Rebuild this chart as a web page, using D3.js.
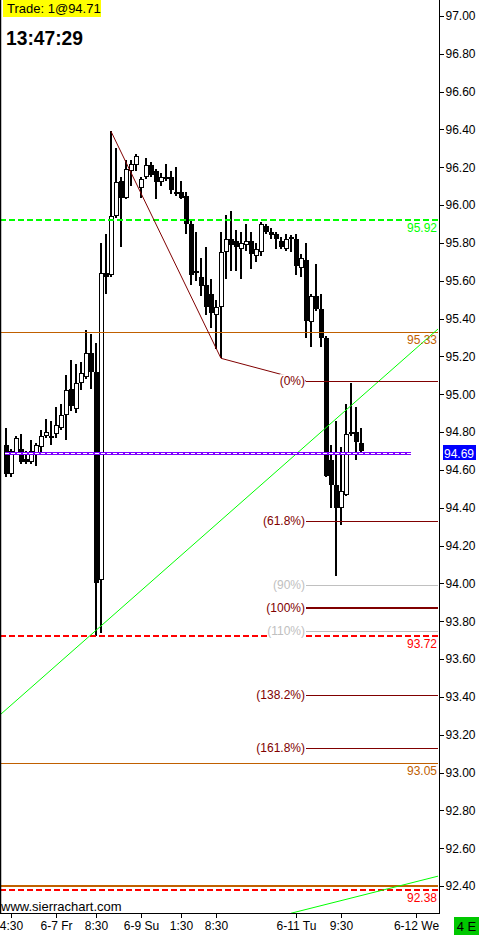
<!DOCTYPE html>
<html><head><meta charset="utf-8">
<script src="https://cdn.jsdelivr.net/npm/d3@7"></script>
<style>html,body{margin:0;padding:0;background:#fff;overflow:hidden}svg{display:block}</style>
</head><body><svg id="c" width="480" height="935"></svg>
<script>
// ---- data ----
const opens  = [94.73,94.58,94.69,94.71,94.66,94.64,94.69,94.72,94.78,94.78,94.79,94.82,94.89,95.03,94.92,95.06,95.09,95.22,95.12,94.02,95.64,95.63,95.94,96.13,96.04,96.18,96.21,96.09,96.15,96.21,96.18,96.12,96.15,96.15,96.07,96.07,96.05,95.90,95.64,95.62,95.58,95.53,95.42,95.46,95.75,95.82,95.81,95.77,95.79,95.81,95.73,95.75,95.89,95.86,95.85,95.81,95.77,95.82,95.82,95.67,95.71,95.38,95.52,95.45,95.30,94.65,94.52,94.40,94.47,94.79,94.80,94.74];
const highs  = [94.82,94.71,94.78,94.79,94.70,94.76,94.74,94.81,94.87,94.86,94.93,94.95,95.10,95.18,95.16,95.17,95.34,95.32,95.27,95.80,95.85,96.39,96.30,96.15,96.24,96.24,96.27,96.15,96.25,96.23,96.19,96.17,96.22,96.18,96.20,96.13,96.07,95.92,95.86,95.72,95.78,95.61,95.50,95.86,95.95,95.97,95.87,95.86,95.90,95.86,95.80,95.91,95.90,95.88,95.86,95.83,95.85,95.84,95.85,95.74,95.80,95.53,95.69,95.53,95.31,94.73,94.86,94.72,94.95,95.06,94.93,94.82];
const lows   = [94.56,94.56,94.69,94.63,94.63,94.63,94.62,94.68,94.77,94.73,94.77,94.81,94.76,94.91,94.90,95.02,95.08,95.03,93.72,93.74,95.53,95.62,95.93,95.78,96.03,96.10,96.18,96.04,96.14,96.15,96.03,96.10,96.13,96.06,96.05,96.03,95.85,95.58,95.60,95.52,95.42,95.35,95.24,95.19,95.61,95.65,95.65,95.61,95.76,95.66,95.70,95.73,95.85,95.82,95.77,95.77,95.76,95.75,95.63,95.62,95.30,95.25,95.44,95.25,94.56,94.40,94.04,94.31,94.46,94.78,94.65,94.69];
const closes = [94.58,94.70,94.77,94.64,94.64,94.70,94.73,94.78,94.80,94.77,94.84,94.89,95.02,94.94,95.06,95.11,95.22,95.12,94.00,95.64,95.62,95.94,96.12,96.04,96.19,96.22,96.26,96.14,96.21,96.16,96.12,96.15,96.14,96.08,96.06,96.04,95.90,95.63,95.65,95.57,95.46,95.43,95.46,95.75,95.82,95.79,95.78,95.80,95.81,95.74,95.77,95.90,95.86,95.84,95.82,95.78,95.82,95.83,95.68,95.72,95.39,95.52,95.45,95.30,94.57,94.52,94.40,94.49,94.79,94.80,94.75,94.70];

const priceTicks = [97.00,96.80,96.60,96.40,96.20,96.00,95.80,95.60,95.40,95.20,95.00,94.80,94.60,94.40,94.20,94.00,93.80,93.60,93.40,93.20,93.00,92.80,92.60,92.40];
const timeTickIdx = [1,10,18,27,35,42,58,67,82];
const timeTickLabels = ["4:30","6-7 Fr","8:30","6-9 Su","1:30","8:30","6-11 Tu","9:30","6-12 We"];

const greenLevels  = [95.92];
const orangeLevels = [95.33, 93.05];
const orangeBottom = [92.40];
const redLevels    = [93.72, 92.38];
const currentPrice = 94.69;
const tradeText = "Trade: 1@94.71";
const clockText = "13:47:29";

// fib extension: swing points (bar index, price)
const swingIdx   = [21, 43, 60];
const swingPrice = [96.39, 95.19, 95.07];
const fibPcts    = [0, 61.8, 90, 100, 110, 138.2, 161.8];
const fibLabels  = ["(0%)","(61.8%)","(90%)","(100%)","(110%)","(138.2%)","(161.8%)"];
const fibMuted   = [false,false,true,false,true,false,false];

// trend lines (bar index, price)
const trend1Idx = [-1.14, 86.4];
const trend1Price = [93.306, 95.345];
const trend2Idx = [57.0, 86.4];
const trend2Price = [92.256, 92.452];

// ---- layout ----
const axisX = 439.5, axisY = 913.5;
const FONT = "'Liberation Sans', Arial, sans-serif";
const svg = d3.select("#c");

const y = d3.scaleLinear().domain([92.40, 97.00]).range([886, 16]);
const x = d3.scaleLinear().domain([0, 86]).range([6, 436]);

svg.append("defs").append("clipPath").attr("id","plot")
  .append("rect").attr("x",0).attr("y",0).attr("width",439).attr("height",913);

const plot = svg.append("g").attr("clip-path","url(#plot)");

// candles
const idx = d3.range(opens.length);
const cg = plot.append("g").attr("shape-rendering","crispEdges");
idx.forEach(i => {
  const cx = Math.round(x(i));
  const yh = Math.round(y(highs[i])), yl = Math.round(y(lows[i]));
  cg.append("rect").attr("x", cx-1).attr("y", yh).attr("width", 2).attr("height", Math.max(1, yl-yh)).attr("fill","#000");
  const up = closes[i] > opens[i];
  const top = Math.round(y(Math.max(opens[i], closes[i])));
  const bot = Math.round(y(Math.min(opens[i], closes[i])));
  const h = Math.max(1, bot-top);
  if (up && h >= 3) {
    cg.append("rect").attr("x", cx-2+0.5).attr("y", top+0.5).attr("width", 4).attr("height", h-1)
      .attr("fill","#fff").attr("stroke","#000").attr("stroke-width",1);
  } else {
    cg.append("rect").attr("x", cx-2).attr("y", top).attr("width", 5).attr("height", Math.max(2,h)).attr("fill","#000");
  }
});

// horizontal level lines
const hline = (p, color, width, dash, x0=0, x1=438) => plot.append("line")
  .attr("x1", x0).attr("x2", x1).attr("y1", Math.round(y(p))+ (width%2?0.5:0)).attr("y2", Math.round(y(p))+(width%2?0.5:0))
  .attr("stroke", color).attr("stroke-width", width).attr("stroke-dasharray", dash || null)
  .attr("shape-rendering","crispEdges");
const levelLabel = (p, color, text) => svg.append("text")
  .attr("x", 437).attr("y", Math.round(y(p)) + 12).attr("text-anchor","end")
  .attr("font-family", FONT).attr("font-size", 12).attr("fill", color).text(text);

const ORANGE = "#c06000", GREEN = "#00ff00", RED = "#ff0000", MAROON = "#800000", GREY = "#c0c0c0";

orangeLevels.forEach(p => { hline(p, ORANGE, 1); levelLabel(p, ORANGE, p.toFixed(2)); });
orangeBottom.forEach(p => { hline(p, ORANGE, 2); });
greenLevels.forEach(p => { hline(p, GREEN, 2, "6,3"); levelLabel(p, GREEN, p.toFixed(2)); });
redLevels.forEach(p => { hline(p, RED, 2, "6,3"); levelLabel(p, RED, p.toFixed(2)); });

// trend lines
const tl = (xs, ps) => plot.append("line")
  .attr("x1", x(xs[0])).attr("y1", y(ps[0])).attr("x2", x(xs[1])).attr("y2", y(ps[1]))
  .attr("stroke", GREEN).attr("stroke-width", 1);
tl(trend1Idx, trend1Price);
tl(trend2Idx, trend2Price);

// fib zigzag
plot.append("path")
  .attr("d", d3.line()(swingIdx.map((d,k) => [x(d), y(swingPrice[k])])))
  .attr("fill","none").attr("stroke", MAROON).attr("stroke-width", 1);

// fib levels
const range = swingPrice[0] - swingPrice[1];
const fibX0 = x(swingIdx[2]);
fibPcts.forEach((pct, k) => {
  const p = swingPrice[2] - pct/100*range;
  const color = fibMuted[k] ? GREY : MAROON;
  const yy = Math.round(y(p));
  const w = pct === 100 ? 2 : 1;
  plot.append("line").attr("x1", fibX0).attr("x2", 438).attr("y1", yy + (w%2?0.5:0)).attr("y2", yy + (w%2?0.5:0))
    .attr("stroke", color).attr("stroke-width", w).attr("shape-rendering","crispEdges");
  const t = svg.append("text").attr("x", fibX0 - 1).attr("y", yy).attr("dy","0.35em")
    .attr("text-anchor","end").attr("font-family", FONT).attr("font-size", 12).attr("fill", color).text(fibLabels[k]);
  const bb = t.node().getBBox();
  svg.insert("rect", () => t.node()).attr("x", bb.x).attr("y", bb.y).attr("width", bb.width).attr("height", bb.height).attr("fill","#fff");
});

// current price line
const cpY = Math.round(y(currentPrice));
plot.append("line").attr("x1",5).attr("x2",411).attr("y1",cpY+0.5).attr("y2",cpY+0.5)
  .attr("stroke","#8000ff").attr("stroke-width",3).attr("shape-rendering","crispEdges");
plot.append("line").attr("x1",5).attr("x2",411).attr("y1",cpY+0.5).attr("y2",cpY+0.5)
  .attr("stroke","#ffffff").attr("stroke-width",1).attr("stroke-dasharray","4,2").attr("shape-rendering","crispEdges");

// axes
const yAxis = d3.axisRight(y).tickValues(priceTicks).tickFormat(d3.format(".2f")).tickSize(4).tickPadding(2);
const ya = svg.append("g").attr("transform", `translate(${axisX},0)`).call(yAxis);
ya.select(".domain").remove();
ya.selectAll("text").attr("font-family", FONT).attr("font-size", 12).attr("fill","#000");
ya.selectAll("line").attr("stroke","#000").attr("shape-rendering","crispEdges");

const xAxis = d3.axisBottom(x).tickValues(timeTickIdx).tickFormat((d,i) => timeTickLabels[i]).tickSize(4).tickPadding(4);
const xa = svg.append("g").attr("transform", `translate(0,${axisY})`).call(xAxis);
xa.select(".domain").remove();
xa.selectAll("text").attr("font-family", FONT).attr("font-size", 12).attr("fill","#000");
xa.selectAll("line").attr("stroke","#000").attr("shape-rendering","crispEdges");

svg.append("line").attr("x1",axisX).attr("x2",axisX).attr("y1",0).attr("y2",914).attr("stroke","#000").attr("shape-rendering","crispEdges");
svg.append("line").attr("x1",0).attr("x2",440).attr("y1",axisY).attr("y2",axisY).attr("stroke","#000").attr("shape-rendering","crispEdges");
svg.append("line").attr("x1",0.5).attr("x2",0.5).attr("y1",0).attr("y2",914).attr("stroke","#000").attr("stroke-width",1.5);

// price box
svg.append("rect").attr("x",443).attr("y",cpY-8).attr("width",33).attr("height",15).attr("fill","#0000ff");
svg.append("text").attr("x",444).attr("y",cpY+5).attr("font-family",FONT).attr("font-size",12).attr("fill","#fff").text(currentPrice.toFixed(2));

// header
svg.append("rect").attr("x",3).attr("y",0).attr("width",98).attr("height",17).attr("fill","#ffff00");
svg.append("text").attr("x",7).attr("y",13).attr("font-family",FONT).attr("font-size",13).attr("fill","#000").text(tradeText);
svg.append("text").attr("x",6).attr("y",45).attr("font-family",FONT).attr("font-size",21).attr("font-weight","bold")
  .attr("textLength",77).attr("lengthAdjust","spacingAndGlyphs").attr("fill","#000").text(clockText);

// watermark
svg.append("text").attr("x",1).attr("y",911).attr("font-family",FONT).attr("font-size",13).attr("fill","#000").text("www.sierrachart.com");

// bottom-right box
svg.append("rect").attr("x",454).attr("y",917).attr("width",25).attr("height",18).attr("fill","#00c800");
svg.append("text").attr("x",466.5).attr("y",931).attr("text-anchor","middle").attr("font-family",FONT).attr("font-size",13).attr("fill","#000").text("4 E");
</script></body></html>
